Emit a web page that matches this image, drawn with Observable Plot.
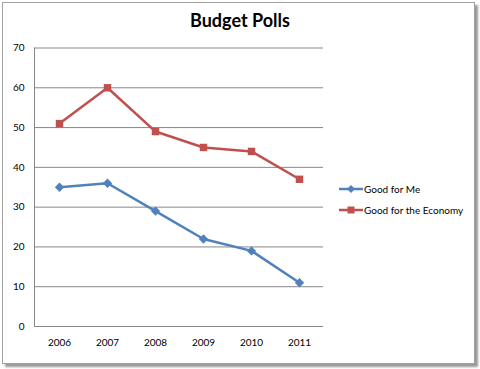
<!DOCTYPE html>
<html><head><meta charset="utf-8">
<script src="https://cdn.jsdelivr.net/npm/d3@7"></script>
<script src="https://cdn.jsdelivr.net/npm/@observablehq/plot@0.6"></script>
<style>
html,body{margin:0;padding:0;background:#fff;}
#wrap{position:relative;width:480px;height:369px;overflow:hidden;font-family:Lato,"Open Sans",sans-serif;}
#frame{position:absolute;left:2px;top:2px;width:471px;height:360px;border:1px solid #a0a0a0;box-shadow:3px 3px 2px #9a9a9a;background:#fff;}
#title{position:absolute;left:0;width:480px;top:9px;text-align:center;font-weight:bold;font-size:18px;color:#000;}
#chart{position:absolute;left:0;top:0;}
.leg{position:absolute;left:339px;font-size:10px;color:#000;display:flex;align-items:center;}
.leg svg{margin-right:1px;}
</style></head><body>
<div id="wrap"><div id="frame"></div><div id="chart"></div><div id="title">Budget Polls</div>
<div class="leg" style="top:183px"><svg width="24" height="12"><line x1="0" y1="6" x2="24" y2="6" stroke="#4F81BD" stroke-width="2.5"/><path d="M12,2 L16,6 L12,10 L8,6Z" fill="#4F81BD"/></svg>Good for Me</div>
<div class="leg" style="top:204px"><svg width="24" height="12"><line x1="0" y1="6" x2="24" y2="6" stroke="#C0504D" stroke-width="2.5"/><rect x="8.5" y="2.5" width="7" height="7" fill="#C0504D"/></svg>Good for the Economy</div>
</div>
<script>
const years = ["2006","2007","2008","2009","2010","2011"];
const goodForMe = [35, 36, 29, 22, 19, 11];
const goodForEconomy = [51, 60, 49, 45, 44, 37];
const yTicks = [0,10,20,30,40,50,60,70];

const me = years.map((y,i)=>({year:y, value:goodForMe[i]}));
const eco = years.map((y,i)=>({year:y, value:goodForEconomy[i]}));

const chart = Plot.plot({
  width: 480, height: 369,
  marginLeft: 34, marginRight: 157, marginTop: 47.5, marginBottom: 43,
  style: {fontFamily: "Lato, 'Open Sans', sans-serif", fontSize: "10px", background: "transparent", color:"#000"},
  x: {type: "point", domain: years, padding: 0.5, label: null, tickSize: 0, tickPadding: 12},
  y: {domain: [0,70], ticks: yTicks, label: null, tickSize: 0, tickPadding: 10},
  marks: [
    Plot.ruleY(yTicks, {stroke: "#878787", strokeWidth: 1}),
    Plot.frame({anchor: "left", stroke: "#878787"}),
    Plot.line(me, {x: "year", y: "value", stroke: "#4F81BD", strokeWidth: 2.5}),
    Plot.line(eco, {x: "year", y: "value", stroke: "#C0504D", strokeWidth: 2.5}),
    Plot.dot(me, {x: "year", y: "value", symbol: "diamond2", r: 4.2, fill: "#4F81BD", stroke: "none"}),
    Plot.dot(eco, {x: "year", y: "value", symbol: "square", r: 4.2, fill: "#C0504D", stroke: "none"})
  ]
});
document.getElementById("chart").appendChild(chart);
</script>
</body></html>
